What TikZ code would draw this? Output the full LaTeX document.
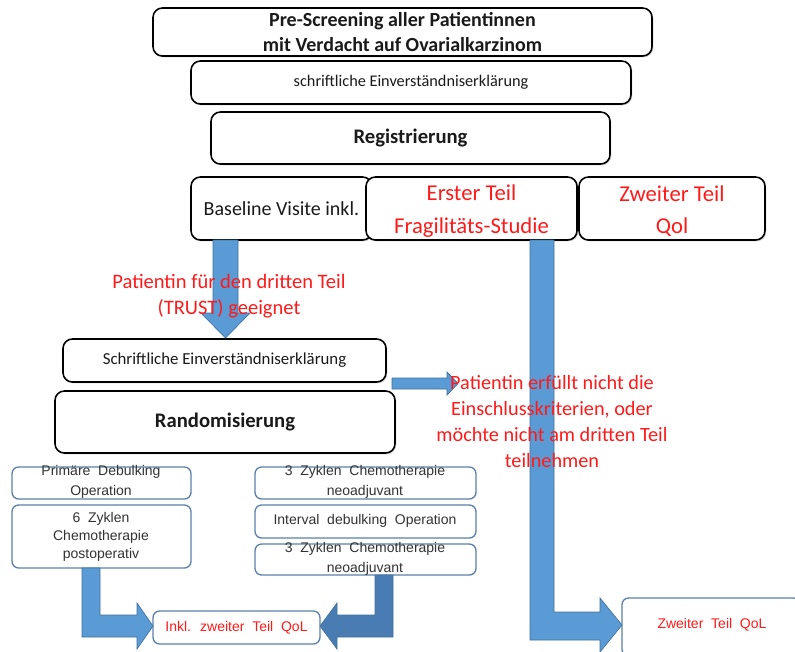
\documentclass[tikz,border=0pt]{standalone}
\usepackage{fontspec}
\setmainfont{Carlito}
\newfontfamily\arialf{Liberation Sans}
\usetikzlibrary{shadows,calc}
\definecolor{redt}{HTML}{FF1A1A}
\definecolor{arrowblue}{HTML}{5B9BD5}
\definecolor{arrowedge}{HTML}{41719C}
\definecolor{arrowdark}{HTML}{4A7CB4}
\definecolor{boxblue}{HTML}{5A80AA}
\definecolor{graytext}{HTML}{333333}
\definecolor{blacktext}{HTML}{1A1A1A}
\newcommand\pbox[7]{\node[#6, minimum width={(#4-#2)*0.75pt}, minimum height={(#5-#3)*0.75pt}] (#1) at ({(#2+#4)/2},{(#3+#5)/2}) {#7};}
\newcommand\fs[2]{\fontsize{#1}{#2}\selectfont}
\begin{document}
\begin{tikzpicture}[x=0.75pt,y=-0.75pt,
  topbox/.style={draw=black, line width=1.2pt, rounded corners=7pt, fill=white,
    drop shadow={shadow xshift=1pt, shadow yshift=-1pt, opacity=0.3, fill=gray},
    inner sep=0pt, align=center, text=blacktext},
  bluebox/.style={draw=boxblue, line width=1pt, rounded corners=5pt, fill=white, inner sep=0pt},
  blockarrow/.style={fill=arrowblue, draw=arrowedge, line width=0.5pt},
  darkarrow/.style={fill=arrowdark, draw=arrowedge, line width=0.5pt},
  redtxt/.style={text=redt, align=center, inner sep=0pt},
  smalltxt/.style={text=graytext, align=center, inner sep=0pt, font=\arialf\fs{10.5}{15}}]
\fill[white] (0,0) rectangle (795,651);
\useasboundingbox (0,0) rectangle (795,651);

% top boxes
\pbox{pre}{153}{8}{652}{56}{topbox, font=\bfseries\fs{15}{19}}{Pre-Screening aller Patientinnen\\mit Verdacht auf Ovarialkarzinom}
\pbox{consent}{191}{61}{631}{104}{topbox, font=\fs{12.2}{14}}{schriftliche Einverständniserklärung}
\pbox{reg}{211}{112}{610}{164}{topbox, font=\bfseries\fs{15.5}{18}}{Registrierung}
\pbox{base}{191}{177}{372}{240}{topbox, font=\fs{15}{18}}{Baseline Visite inkl.}
\pbox{erster}{366}{177}{577}{240}{topbox, drop shadow={opacity=0}}{}
\pbox{zweiter}{579}{177}{765}{240}{topbox}{}
\node[redtxt, font=\fs{17}{24.5}] (erstert) at ($(erster.center)+(0,2.5)$) {Erster Teil\\Fragilitäts-Studie};
\node[redtxt, font=\fs{17}{24.5}] (zweitert) at ($(zweiter.center)+(0,2.5)$) {Zweiter Teil\\Qol};

\pbox{consent2}{63}{339}{386}{382}{topbox, font=\fs{12.6}{14}}{Schriftliche Einverständniserklärung}
\pbox{rand}{55}{391}{395}{453}{topbox, font=\bfseries\fs{15.5}{18}}{Randomisierung}

% bottom boxes
\pbox{prim}{12}{467}{191}{499}{bluebox}{}
\pbox{sechs}{12}{505}{191}{568}{bluebox}{}
\pbox{neo1}{255}{467}{476}{499}{bluebox}{}
\pbox{ido}{255}{505}{476}{538}{bluebox}{}
\pbox{neo2}{255}{544}{476}{575}{bluebox}{}
\pbox{inkl}{153}{611}{320}{644}{bluebox}{}
\pbox{zqol}{622}{598}{800}{656}{bluebox}{}

\node[smalltxt] (primt) at (101,482) {Primäre \ Debulking\\Operation};
\node[smalltxt, font=\arialf\fs{10.5}{13.5}] (sechst) at (101,537) {6 \ Zyklen\\Chemotherapie\\postoperativ};
\node[smalltxt] (neo1t) at (365,482) {3 \ Zyklen \ Chemotherapie\\neoadjuvant};
\node[smalltxt] (idot) at (365,521) {Interval \ debulking \ Operation};
\node[smalltxt] (neo2t) at (365,559) {3 \ Zyklen \ Chemotherapie\\neoadjuvant};
\node[smalltxt, text=redt] (inklt) at (inkl) {Inkl. \ zweiter \ Teil \ QoL};
\node[smalltxt, text=redt] (zqolt) at (712,625) {Zweiter \ Teil \ QoL};

% block arrows
\draw[blockarrow] (213,240) -- (238,240) -- (238,313) -- (250,313) -- (225.5,338) -- (201,313) -- (213,313) -- cycle;
\draw[blockarrow] (392,378) -- (447,378) -- (447,372) -- (458,383.5) -- (447,395) -- (447,389) -- (392,389) -- cycle;
\draw[blockarrow] (530,240) -- (554,240) -- (554,612) -- (600,612) -- (600,598) -- (622,625) -- (600,652) -- (600,640) -- (530,640) -- cycle;
\draw[blockarrow] (82,568) -- (100,568) -- (100,615) -- (137,615) -- (137,603) -- (153,626) -- (137,649) -- (137,637) -- (82,637) -- cycle;
\draw[darkarrow] (375,575) -- (393,575) -- (393,637) -- (337,637) -- (337,649) -- (320,626) -- (337,603) -- (337,615) -- (375,615) -- cycle;

% red texts
\node[redtxt, font=\fs{15.4}{19}] (geeignet) at (229,296) {Patientin für den dritten Teil\\(TRUST) geeignet};
\node[redtxt, font=\fs{15.2}{19.5}] (nicht) at (552,422) {Patientin erfüllt nicht die\\Einschlusskriterien, oder\\möchte nicht am dritten Teil\\teilnehmen};
\end{tikzpicture}
\end{document}
